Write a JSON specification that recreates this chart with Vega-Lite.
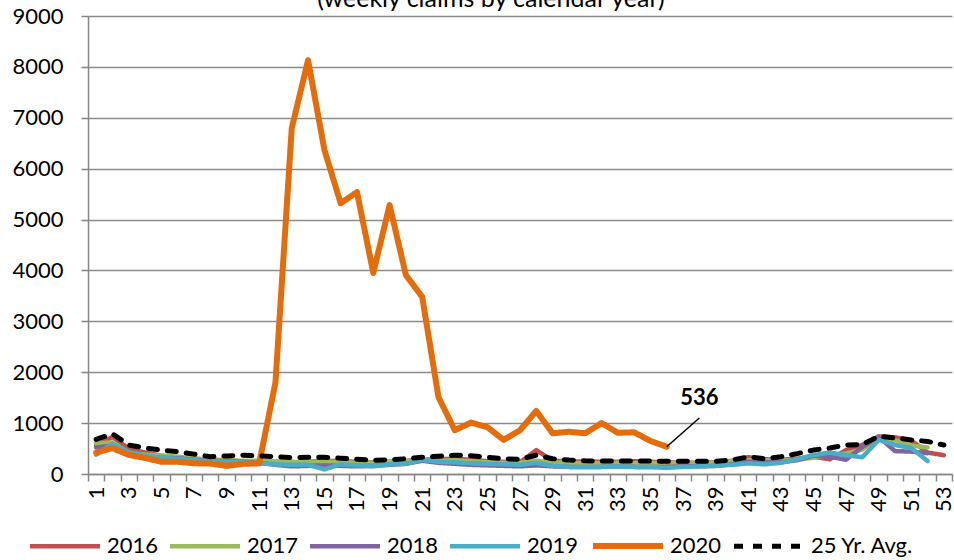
{
  "$schema": "https://vega.github.io/schema/vega-lite/v6.json",
  "width": 864,
  "height": 458,
  "autosize": {"type": "none"},
  "padding": {"left": 88, "top": 16, "right": 2, "bottom": 86},
  "background": "white",
  "config": {"font": "Lato", "view": {"stroke": null}},
  "title": {"text": "(weekly claims by calendar year)", "fontSize": 25, "fontWeight": "normal", "font": "Lato", "color": "#000000", "anchor": "middle", "frame": "group", "dx": -29, "dy": 25, "offset": -2, "baseline": "alphabetic"},
  "datasets": {
    "claims": [
      {"week":1,"series":"2016","claims":560},{"week":2,"series":"2016","claims":730},{"week":3,"series":"2016","claims":500},{"week":4,"series":"2016","claims":420},{"week":5,"series":"2016","claims":360},{"week":6,"series":"2016","claims":330},{"week":7,"series":"2016","claims":300},{"week":8,"series":"2016","claims":280},{"week":9,"series":"2016","claims":260},{"week":10,"series":"2016","claims":250},{"week":11,"series":"2016","claims":250},{"week":12,"series":"2016","claims":240},{"week":13,"series":"2016","claims":230},{"week":14,"series":"2016","claims":240},{"week":15,"series":"2016","claims":260},{"week":16,"series":"2016","claims":250},{"week":17,"series":"2016","claims":240},{"week":18,"series":"2016","claims":230},{"week":19,"series":"2016","claims":240},{"week":20,"series":"2016","claims":260},{"week":21,"series":"2016","claims":280},{"week":22,"series":"2016","claims":290},{"week":23,"series":"2016","claims":300},{"week":24,"series":"2016","claims":280},{"week":25,"series":"2016","claims":250},{"week":26,"series":"2016","claims":240},{"week":27,"series":"2016","claims":230},{"week":28,"series":"2016","claims":470},{"week":29,"series":"2016","claims":260},{"week":30,"series":"2016","claims":250},{"week":31,"series":"2016","claims":240},{"week":32,"series":"2016","claims":240},{"week":33,"series":"2016","claims":240},{"week":34,"series":"2016","claims":250},{"week":35,"series":"2016","claims":240},{"week":36,"series":"2016","claims":230},{"week":37,"series":"2016","claims":220},{"week":38,"series":"2016","claims":220},{"week":39,"series":"2016","claims":230},{"week":40,"series":"2016","claims":260},{"week":41,"series":"2016","claims":330},{"week":42,"series":"2016","claims":290},{"week":43,"series":"2016","claims":280},{"week":44,"series":"2016","claims":300},{"week":45,"series":"2016","claims":340},{"week":46,"series":"2016","claims":290},{"week":47,"series":"2016","claims":470},{"week":48,"series":"2016","claims":570},{"week":49,"series":"2016","claims":740},{"week":50,"series":"2016","claims":720},{"week":51,"series":"2016","claims":660},{"week":52,"series":"2016","claims":420},{"week":53,"series":"2016","claims":370},
      {"week":1,"series":"2017","claims":600},{"week":2,"series":"2017","claims":620},{"week":3,"series":"2017","claims":420},{"week":4,"series":"2017","claims":380},{"week":5,"series":"2017","claims":360},{"week":6,"series":"2017","claims":340},{"week":7,"series":"2017","claims":300},{"week":8,"series":"2017","claims":290},{"week":9,"series":"2017","claims":270},{"week":10,"series":"2017","claims":260},{"week":11,"series":"2017","claims":260},{"week":12,"series":"2017","claims":250},{"week":13,"series":"2017","claims":240},{"week":14,"series":"2017","claims":230},{"week":15,"series":"2017","claims":240},{"week":16,"series":"2017","claims":230},{"week":17,"series":"2017","claims":220},{"week":18,"series":"2017","claims":220},{"week":19,"series":"2017","claims":240},{"week":20,"series":"2017","claims":250},{"week":21,"series":"2017","claims":260},{"week":22,"series":"2017","claims":260},{"week":23,"series":"2017","claims":270},{"week":24,"series":"2017","claims":250},{"week":25,"series":"2017","claims":230},{"week":26,"series":"2017","claims":220},{"week":27,"series":"2017","claims":220},{"week":28,"series":"2017","claims":260},{"week":29,"series":"2017","claims":230},{"week":30,"series":"2017","claims":220},{"week":31,"series":"2017","claims":210},{"week":32,"series":"2017","claims":210},{"week":33,"series":"2017","claims":220},{"week":34,"series":"2017","claims":210},{"week":35,"series":"2017","claims":220},{"week":36,"series":"2017","claims":210},{"week":37,"series":"2017","claims":210},{"week":38,"series":"2017","claims":210},{"week":39,"series":"2017","claims":220},{"week":40,"series":"2017","claims":250},{"week":41,"series":"2017","claims":270},{"week":42,"series":"2017","claims":270},{"week":43,"series":"2017","claims":260},{"week":44,"series":"2017","claims":280},{"week":45,"series":"2017","claims":320},{"week":46,"series":"2017","claims":380},{"week":47,"series":"2017","claims":400},{"week":48,"series":"2017","claims":480},{"week":49,"series":"2017","claims":720},{"week":50,"series":"2017","claims":660},{"week":51,"series":"2017","claims":560},{"week":52,"series":"2017","claims":520},
      {"week":1,"series":"2018","claims":520},{"week":2,"series":"2018","claims":560},{"week":3,"series":"2018","claims":400},{"week":4,"series":"2018","claims":340},{"week":5,"series":"2018","claims":320},{"week":6,"series":"2018","claims":310},{"week":7,"series":"2018","claims":280},{"week":8,"series":"2018","claims":260},{"week":9,"series":"2018","claims":250},{"week":10,"series":"2018","claims":240},{"week":11,"series":"2018","claims":220},{"week":12,"series":"2018","claims":180},{"week":13,"series":"2018","claims":150},{"week":14,"series":"2018","claims":160},{"week":15,"series":"2018","claims":170},{"week":16,"series":"2018","claims":160},{"week":17,"series":"2018","claims":150},{"week":18,"series":"2018","claims":160},{"week":19,"series":"2018","claims":180},{"week":20,"series":"2018","claims":200},{"week":21,"series":"2018","claims":260},{"week":22,"series":"2018","claims":220},{"week":23,"series":"2018","claims":200},{"week":24,"series":"2018","claims":180},{"week":25,"series":"2018","claims":170},{"week":26,"series":"2018","claims":160},{"week":27,"series":"2018","claims":150},{"week":28,"series":"2018","claims":170},{"week":29,"series":"2018","claims":150},{"week":30,"series":"2018","claims":140},{"week":31,"series":"2018","claims":140},{"week":32,"series":"2018","claims":140},{"week":33,"series":"2018","claims":150},{"week":34,"series":"2018","claims":140},{"week":35,"series":"2018","claims":140},{"week":36,"series":"2018","claims":140},{"week":37,"series":"2018","claims":150},{"week":38,"series":"2018","claims":150},{"week":39,"series":"2018","claims":160},{"week":40,"series":"2018","claims":190},{"week":41,"series":"2018","claims":240},{"week":42,"series":"2018","claims":230},{"week":43,"series":"2018","claims":230},{"week":44,"series":"2018","claims":270},{"week":45,"series":"2018","claims":360},{"week":46,"series":"2018","claims":340},{"week":47,"series":"2018","claims":280},{"week":48,"series":"2018","claims":530},{"week":49,"series":"2018","claims":730},{"week":50,"series":"2018","claims":450},{"week":51,"series":"2018","claims":440},{"week":52,"series":"2018","claims":410},
      {"week":1,"series":"2019","claims":380},{"week":2,"series":"2019","claims":590},{"week":3,"series":"2019","claims":430},{"week":4,"series":"2019","claims":360},{"week":5,"series":"2019","claims":320},{"week":6,"series":"2019","claims":300},{"week":7,"series":"2019","claims":270},{"week":8,"series":"2019","claims":250},{"week":9,"series":"2019","claims":240},{"week":10,"series":"2019","claims":230},{"week":11,"series":"2019","claims":210},{"week":12,"series":"2019","claims":190},{"week":13,"series":"2019","claims":180},{"week":14,"series":"2019","claims":180},{"week":15,"series":"2019","claims":90},{"week":16,"series":"2019","claims":190},{"week":17,"series":"2019","claims":170},{"week":18,"series":"2019","claims":150},{"week":19,"series":"2019","claims":190},{"week":20,"series":"2019","claims":200},{"week":21,"series":"2019","claims":280},{"week":22,"series":"2019","claims":240},{"week":23,"series":"2019","claims":230},{"week":24,"series":"2019","claims":210},{"week":25,"series":"2019","claims":200},{"week":26,"series":"2019","claims":190},{"week":27,"series":"2019","claims":180},{"week":28,"series":"2019","claims":220},{"week":29,"series":"2019","claims":160},{"week":30,"series":"2019","claims":140},{"week":31,"series":"2019","claims":140},{"week":32,"series":"2019","claims":140},{"week":33,"series":"2019","claims":150},{"week":34,"series":"2019","claims":140},{"week":35,"series":"2019","claims":140},{"week":36,"series":"2019","claims":120},{"week":37,"series":"2019","claims":140},{"week":38,"series":"2019","claims":150},{"week":39,"series":"2019","claims":160},{"week":40,"series":"2019","claims":180},{"week":41,"series":"2019","claims":210},{"week":42,"series":"2019","claims":190},{"week":43,"series":"2019","claims":220},{"week":44,"series":"2019","claims":290},{"week":45,"series":"2019","claims":370},{"week":46,"series":"2019","claims":420},{"week":47,"series":"2019","claims":370},{"week":48,"series":"2019","claims":330},{"week":49,"series":"2019","claims":670},{"week":50,"series":"2019","claims":570},{"week":51,"series":"2019","claims":510},{"week":52,"series":"2019","claims":255},
      {"week":1,"series":"2020","claims":420},{"week":2,"series":"2020","claims":510},{"week":3,"series":"2020","claims":375},{"week":4,"series":"2020","claims":315},{"week":5,"series":"2020","claims":240},{"week":6,"series":"2020","claims":240},{"week":7,"series":"2020","claims":210},{"week":8,"series":"2020","claims":205},{"week":9,"series":"2020","claims":160},{"week":10,"series":"2020","claims":200},{"week":11,"series":"2020","claims":210},{"week":12,"series":"2020","claims":1800},{"week":13,"series":"2020","claims":6800},{"week":14,"series":"2020","claims":8130},{"week":15,"series":"2020","claims":6370},{"week":16,"series":"2020","claims":5320},{"week":17,"series":"2020","claims":5540},{"week":18,"series":"2020","claims":3950},{"week":19,"series":"2020","claims":5285},{"week":20,"series":"2020","claims":3910},{"week":21,"series":"2020","claims":3480},{"week":22,"series":"2020","claims":1510},{"week":23,"series":"2020","claims":860},{"week":24,"series":"2020","claims":1010},{"week":25,"series":"2020","claims":920},{"week":26,"series":"2020","claims":670},{"week":27,"series":"2020","claims":860},{"week":28,"series":"2020","claims":1240},{"week":29,"series":"2020","claims":800},{"week":30,"series":"2020","claims":830},{"week":31,"series":"2020","claims":800},{"week":32,"series":"2020","claims":1000},{"week":33,"series":"2020","claims":810},{"week":34,"series":"2020","claims":820},{"week":35,"series":"2020","claims":650},{"week":36,"series":"2020","claims":536},
      {"week":1,"series":"25 Yr. Avg.","claims":680},{"week":2,"series":"25 Yr. Avg.","claims":790},{"week":3,"series":"25 Yr. Avg.","claims":570},{"week":4,"series":"25 Yr. Avg.","claims":510},{"week":5,"series":"25 Yr. Avg.","claims":470},{"week":6,"series":"25 Yr. Avg.","claims":440},{"week":7,"series":"25 Yr. Avg.","claims":390},{"week":8,"series":"25 Yr. Avg.","claims":340},{"week":9,"series":"25 Yr. Avg.","claims":355},{"week":10,"series":"25 Yr. Avg.","claims":370},{"week":11,"series":"25 Yr. Avg.","claims":355},{"week":12,"series":"25 Yr. Avg.","claims":340},{"week":13,"series":"25 Yr. Avg.","claims":320},{"week":14,"series":"25 Yr. Avg.","claims":330},{"week":15,"series":"25 Yr. Avg.","claims":330},{"week":16,"series":"25 Yr. Avg.","claims":310},{"week":17,"series":"25 Yr. Avg.","claims":290},{"week":18,"series":"25 Yr. Avg.","claims":270},{"week":19,"series":"25 Yr. Avg.","claims":280},{"week":20,"series":"25 Yr. Avg.","claims":300},{"week":21,"series":"25 Yr. Avg.","claims":330},{"week":22,"series":"25 Yr. Avg.","claims":350},{"week":23,"series":"25 Yr. Avg.","claims":370},{"week":24,"series":"25 Yr. Avg.","claims":360},{"week":25,"series":"25 Yr. Avg.","claims":330},{"week":26,"series":"25 Yr. Avg.","claims":300},{"week":27,"series":"25 Yr. Avg.","claims":290},{"week":28,"series":"25 Yr. Avg.","claims":370},{"week":29,"series":"25 Yr. Avg.","claims":300},{"week":30,"series":"25 Yr. Avg.","claims":275},{"week":31,"series":"25 Yr. Avg.","claims":260},{"week":32,"series":"25 Yr. Avg.","claims":255},{"week":33,"series":"25 Yr. Avg.","claims":255},{"week":34,"series":"25 Yr. Avg.","claims":255},{"week":35,"series":"25 Yr. Avg.","claims":255},{"week":36,"series":"25 Yr. Avg.","claims":250},{"week":37,"series":"25 Yr. Avg.","claims":250},{"week":38,"series":"25 Yr. Avg.","claims":250},{"week":39,"series":"25 Yr. Avg.","claims":250},{"week":40,"series":"25 Yr. Avg.","claims":275},{"week":41,"series":"25 Yr. Avg.","claims":335},{"week":42,"series":"25 Yr. Avg.","claims":300},{"week":43,"series":"25 Yr. Avg.","claims":340},{"week":44,"series":"25 Yr. Avg.","claims":400},{"week":45,"series":"25 Yr. Avg.","claims":470},{"week":46,"series":"25 Yr. Avg.","claims":510},{"week":47,"series":"25 Yr. Avg.","claims":570},{"week":48,"series":"25 Yr. Avg.","claims":580},{"week":49,"series":"25 Yr. Avg.","claims":740},{"week":50,"series":"25 Yr. Avg.","claims":710},{"week":51,"series":"25 Yr. Avg.","claims":670},{"week":52,"series":"25 Yr. Avg.","claims":640},{"week":53,"series":"25 Yr. Avg.","claims":570}
    ],
    "leader": [{"week": 36, "week2": 38, "claims": 536, "claims2": 1100}],
    "label": [{"week": 38, "claims": 1500, "text": "536"}]
  },
  "layer": [
    {
      "data": {"name": "claims"},
      "mark": {"type": "line", "strokeCap": "round", "strokeJoin": "round"},
      "encoding": {
        "x": {
          "field": "week", "type": "ordinal",
          "scale": {"paddingInner": 0, "paddingOuter": 0},
          "axis": {"title": null, "labelAngle": 270, "labelAlign": "right", "labelBaseline": "middle", "labelExpr": "datum.value % 2 === 1 ? datum.label : ''", "labelFontSize": 22, "labelColor": "#000000", "labelPadding": 5, "labelOverlap": false, "tickBand": "extent", "tickSize": 7, "tickColor": "#868686", "tickWidth": 1.5, "domainColor": "#868686", "domainWidth": 1.5, "grid": false}
        },
        "y": {
          "field": "claims", "type": "quantitative",
          "scale": {"domain": [0, 9000], "nice": false},
          "axis": {"title": null, "values": [0,500,1000,1500,2000,2500,3000,3500,4000,4500,5000,5500,6000,6500,7000,7500,8000,8500,9000], "format": "d", "labelExpr": "datum.value % 1000 === 0 ? datum.label : ''", "labelFontSize": 22, "labelColor": "#000000", "labelPadding": 18, "tickSize": 7, "tickColor": "#868686", "tickWidth": 1.5, "domainColor": "#868686", "domainWidth": 1.5, "gridColor": {"condition": {"test": "datum.value % 1000 === 0", "value": "#8c8c8c"}, "value": "rgba(0,0,0,0)"}, "gridWidth": 1.5}
        },
        "color": {
          "field": "series", "type": "nominal",
          "scale": {"domain": ["2016","2017","2018","2019","2020","25 Yr. Avg."], "range": ["#C0504D","#9BBB59","#8064A2","#4BACC6","#E46C0A","#000000"]},
          "legend": {"title": null, "orient": "none", "legendX": -61, "legendY": 492, "direction": "horizontal", "columns": 6, "symbolType": "stroke", "symbolSize": 4900, "symbolStrokeWidth": 5, "labelFontSize": 22, "labelColor": "#000000", "labelOffset": 4, "columnPadding": 2}
        },
        "strokeDash": {
          "field": "series", "type": "nominal",
          "scale": {"domain": ["2016","2017","2018","2019","2020","25 Yr. Avg."], "range": [[1,0],[1,0],[1,0],[1,0],[1,0],[9,10]]},
          "legend": {"title": null, "orient": "none", "legendX": -61, "legendY": 492, "direction": "horizontal", "columns": 6, "symbolType": "stroke", "symbolSize": 4900, "symbolStrokeWidth": 5, "labelFontSize": 22, "labelColor": "#000000", "labelOffset": 4, "columnPadding": 2}
        },
        "strokeWidth": {
          "field": "series", "type": "nominal",
          "scale": {"type": "ordinal", "domain": ["2016","2017","2018","2019","2020","25 Yr. Avg."], "range": [4.5,4.5,4.5,4.5,6,5]},
          "legend": null
        }
      }
    },
    {
      "data": {"name": "leader"},
      "mark": {"type": "rule", "color": "#000000", "strokeWidth": 1.5},
      "encoding": {
        "x": {"field": "week", "type": "ordinal"},
        "x2": {"field": "week2"},
        "y": {"field": "claims", "type": "quantitative"},
        "y2": {"field": "claims2"}
      }
    },
    {
      "data": {"name": "label"},
      "mark": {"type": "text", "fontSize": 22, "fontWeight": "bold", "color": "#000000", "baseline": "middle", "align": "center"},
      "encoding": {
        "x": {"field": "week", "type": "ordinal"},
        "y": {"field": "claims", "type": "quantitative"},
        "text": {"field": "text"}
      }
    }
  ]
}
